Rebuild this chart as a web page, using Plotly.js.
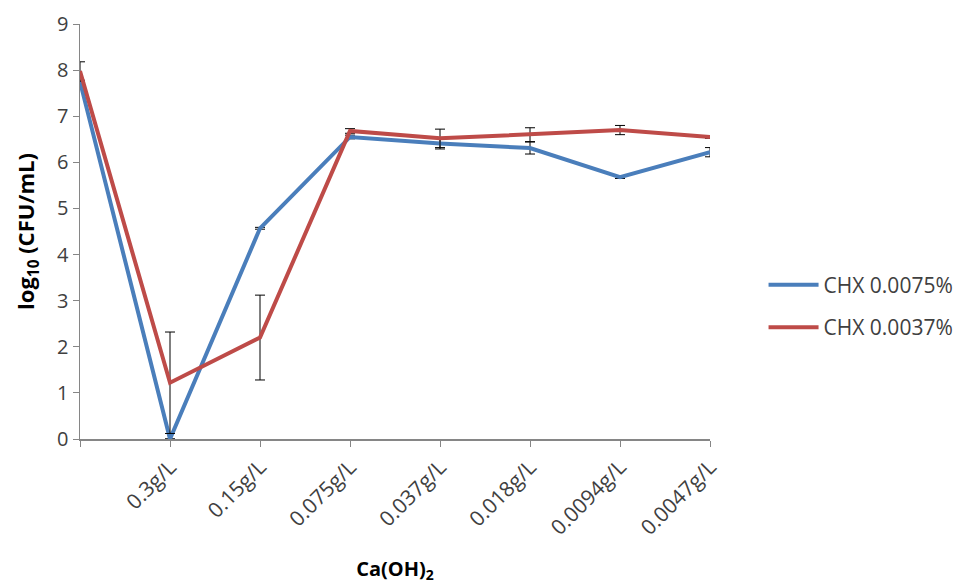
<!DOCTYPE html>
<html>
<head>
<meta charset="utf-8">
<script src="https://cdn.plot.ly/plotly-3.0.1.min.js"></script>
<style>html,body{margin:0;padding:0;background:#fff;}#chart{width:960px;height:585px;}</style>
</head>
<body>
<div id="chart"></div>
<script>
// Data
const categories = ["", "0.3g/L", "0.15g/L", "0.075g/L", "0.037g/L", "0.018g/L", "0.0094g/L", "0.0047g/L"];
const seriesNames = ["CHX 0.0075%", "CHX 0.0037%"];
const chx0075 = [7.75, 0.0, 4.57, 6.55, 6.41, 6.31, 5.68, 6.22];
const chx0075Err = [0.0, 0.0, 0.02, 0.04, 0.12, 0.13, 0.03, 0.1];
const chx0037 = [7.98, 1.22, 2.2, 6.68, 6.52, 6.6, 6.7, 6.55];
const chx0037Err = [0.2, 1.1, 0.92, 0.05, 0.2, 0.15, 0.1, 0.03];
const yTicks = [0, 1, 2, 3, 4, 5, 6, 7, 8, 9];

const xIdx = categories.map((c, i) => i);
const FONT = "Open Sans, Liberation Sans, sans-serif";

const traces = [
  {
    x: xIdx, y: chx0075, name: seriesNames[0], type: "scatter", mode: "lines",
    legendgroup: "a",
    line: {color: "#4A7EBB", width: 4},
    error_y: {type: "data", array: chx0075Err, visible: true, color: "#000", thickness: 1, width: 5}
  },
  {
    x: xIdx, y: chx0037, name: seriesNames[1], type: "scatter", mode: "lines",
    legendgroup: "b",
    line: {color: "#BE4B48", width: 4},
    error_y: {type: "data", array: chx0037Err, visible: true, color: "#000", thickness: 1, width: 5}
  }
];

const layout = {
  width: 960, height: 585,
  margin: {l: 80, r: 250, t: 24, b: 146, autoexpand: false},
  paper_bgcolor: "#fff", plot_bgcolor: "#fff",
  font: {family: FONT, size: 17, color: "#404040"},
  showlegend: true,
  legend: {
    x: 1.085, xanchor: "left", y: 0.32, yanchor: "middle",
    font: {family: FONT, size: 21, color: "#404040"},
    tracegroupgap: 12, itemwidth: 50,
    bgcolor: "rgba(0,0,0,0)"
  },
  xaxis: {
    range: [0, categories.length - 1],
    tickmode: "array", tickvals: xIdx, ticktext: categories,
    tickangle: -45, ticks: "outside", ticklen: 6, tickcolor: "#868686",
    showline: true, linecolor: "#868686", linewidth: 1.5,
    showgrid: false, zeroline: false,
    tickfont: {family: FONT, size: 21, color: "#404040"},
    title: {text: "<b>Ca(OH)<sub>2</sub></b>", font: {family: FONT, size: 20, color: "#000"}, standoff: 22}
  },
  yaxis: {
    range: [0, 9], tickmode: "array", tickvals: yTicks,
    ticks: "outside", ticklen: 6, tickcolor: "#868686",
    showline: true, linecolor: "#868686", linewidth: 1.5,
    showgrid: false, zeroline: false,
    tickfont: {family: FONT, size: 20, color: "#404040"},
    title: {text: "<b>log<sub>10</sub> (CFU/mL)</b>", font: {family: FONT, size: 22, color: "#000"}, standoff: 16}
  }
};

Plotly.newPlot("chart", traces, layout, {displayModeBar: false, staticPlot: true});
</script>
</body>
</html>
